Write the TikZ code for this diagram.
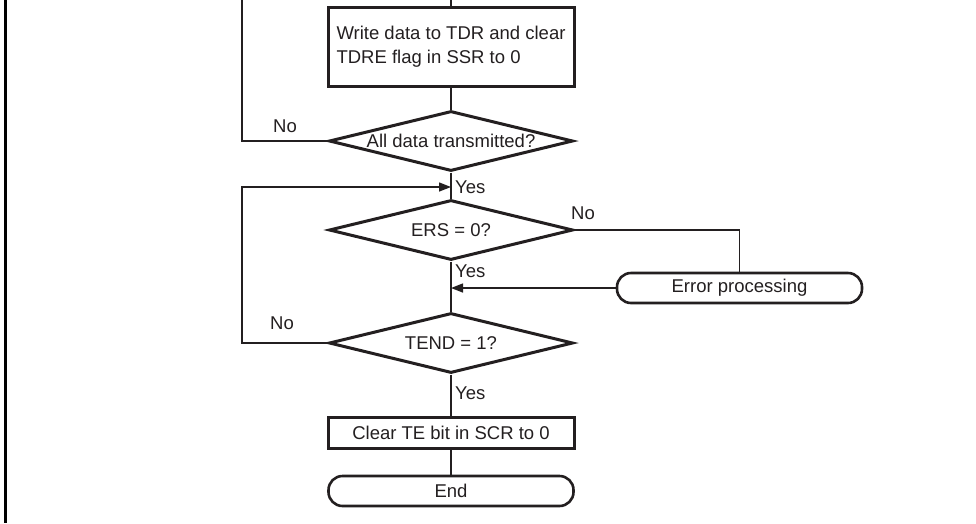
\documentclass[tikz,border=0pt]{standalone}
\usepackage{fontspec}
\setmainfont{Liberation Sans}
\usepackage{xcolor}
\definecolor{inkgray}{HTML}{231F20}
\usetikzlibrary{shapes.geometric, arrows.meta}

\begin{document}
\begin{tikzpicture}[x=1pt, y=-1pt,
  every node/.style={font=\fontsize{18.5}{24}\selectfont, text=inkgray},
  procbox/.style={draw=inkgray, line width=3pt, rectangle, minimum width=246pt, inner sep=0pt},
  decide/.style={draw=inkgray, line width=3pt, diamond, aspect=4, minimum width=244pt, minimum height=60pt, inner sep=0pt},
  terminal/.style={draw=inkgray, line width=2.6pt, rectangle, rounded corners=14pt, minimum width=245pt, minimum height=30pt, inner sep=0pt},
  flow/.style={draw=inkgray, line width=1.4pt},
  tip/.style={-{Triangle[length=12pt,width=9pt]}}]
  \useasboundingbox (0,0) rectangle (976,523);
  \draw[line width=3pt] (5,0) -- (5,523);

  \node[procbox, minimum height=79pt, align=left] (wrtdr) at (451,46.5) {Write data to TDR and clear\\TDRE flag in SSR to 0};
  \node[decide] (alldone) at (451,141) {All data transmitted?};
  \node[decide] (ers) at (451,230) {ERS = 0?};
  \node[terminal] (errproc) at (739.5,288) {Error processing};
  \node[decide] (tend) at (451,343) {TEND = 1?};
  \node[procbox, minimum height=31pt] (clrte) at (451,432.5) {Clear TE bit in SCR to 0};
  \node[terminal] (finish) at (451,491) {End};

  \coordinate (toptop) at (451,0);
  \coordinate (looptop) at (242,0);
  \coordinate (yesin) at (451,187);
  \coordinate (errin) at (451,288);

  \path[flow] (toptop) -- (wrtdr.north);
  \path[flow] (wrtdr.south) -- (alldone.north);
  \path[flow] (alldone.west) -- (242,141) -- (looptop);
  \path[flow] (alldone.south) -- (ers.north);
  \path[flow] (ers.south) -- (tend.north);
  \path[flow] (ers.east) -| (errproc.north);
  \path[flow, tip] (errproc.west) -- (errin);
  \path[flow, tip] (tend.west) -- (242,343) -- (242,187) -- (yesin);
  \path[flow] (tend.south) -- (clrte.north);
  \path[flow] (clrte.south) -- (finish.north);

  \node (no1) at (285,126) {No};
  \node[anchor=west, inner sep=0pt] (yes1) at (455,187) {Yes};
  \node (no2) at (583,213) {No};
  \node[anchor=west, inner sep=0pt] (yes2) at (455,271) {Yes};
  \node (no3) at (282,323) {No};
  \node[anchor=west, inner sep=0pt] (yes3) at (455,393) {Yes};
\end{tikzpicture}
\end{document}
